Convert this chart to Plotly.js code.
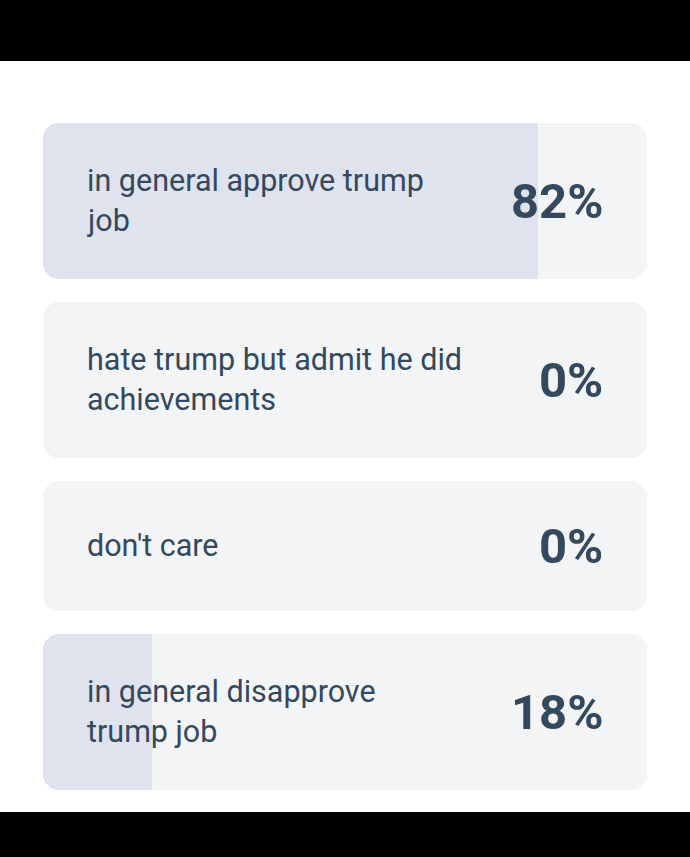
<!DOCTYPE html>
<html>
<head>
<meta charset="utf-8">
<script src="https://cdn.plot.ly/plotly-3.0.1.min.js"></script>
<style>html,body{margin:0;padding:0;background:#000;}#chart{width:690px;height:857px;}</style>
</head>
<body>
<div id="chart"></div>
<script>
// ---- data ----
const labels = ["in general approve trump job", "hate trump but admit he did achievements", "don't care", "in general disapprove trump job"];
const values = [82, 0, 0, 18];
const valueLabels = values.map(v => v + '%');

// ---- style / geometry ----
const W = 690, H = 857;
const bandTop = 61, bandBottom = 812;
const cardLeft = 43, cardRight = 647;
const firstTop = 123, gap = 23, pad = 38, lineH = 40, minH = 130;
const labelX = 85, pctRight = 605;
const labelFont = 30.5, pctFont = 49;
const textColor = '#34495e';
const cardColor = '#f3f4f6';
const fillColor = '#dfe3ee';
const radius = 16;

const cv = document.createElement('canvas').getContext('2d');
function measure(t, font) { cv.font = font; return cv.measureText(t).width; }
function wrap(text, maxW) {
  const words = text.split(' ');
  const lines = []; let cur = '';
  words.forEach(w => {
    const test = cur ? cur + ' ' + w : w;
    if (cur && measure(test, labelFont + 'px Roboto') > maxW) { lines.push(cur); cur = w; }
    else cur = test;
  });
  if (cur) lines.push(cur);
  return lines;
}

const wrapped = labels.map((l, i) => {
  const pw = measure(valueLabels[i], 'bold ' + pctFont + 'px Roboto');
  return wrap(l, pctRight - pw - 64 - labelX);
});
const heights = wrapped.map(ls => Math.max(minH, ls.length * lineH + 2 * pad));
const centers = [];
let cardTop = firstTop;
heights.forEach(h => { centers.push(cardTop + h / 2); cardTop += h + gap; });

const pxPerUnit = (cardRight - cardLeft) / 100;
const xr = [-cardLeft / pxPerUnit, 100 + (W - cardRight) / pxPerUnit];

const common = {type: 'bar', orientation: 'h', y: centers, width: heights, hoverinfo: 'skip', showlegend: false};
const traces = [
  // card backgrounds (full 100%)
  Object.assign({}, common, {base: labels.map(() => 0), x: labels.map(() => 100), marker: {color: cardColor, cornerradius: radius}}),
  // share fill, rounded
  Object.assign({}, common, {base: values.map(() => 0), x: values, marker: {color: fillColor, cornerradius: radius}}),
  // square-off the right end of the share fill
  Object.assign({}, common, {base: values.map(v => v / 2), x: values.map(v => v / 2), marker: {color: fillColor, cornerradius: 0}})
];

const annotations = [];
wrapped.forEach((ls, i) => {
  ls.forEach((t, j) => {
    annotations.push({xref: 'paper', yref: 'y', x: labelX / W, y: centers[i] + (j - (ls.length - 1) / 2) * lineH - 1,
      xanchor: 'left', yanchor: 'middle', text: t, showarrow: false,
      font: {family: 'Roboto', size: labelFont, color: textColor}});
  });
  annotations.push({xref: 'paper', yref: 'y', x: pctRight / W, y: centers[i],
    xanchor: 'right', yanchor: 'middle', text: '<b>' + valueLabels[i] + '</b>', showarrow: false,
    font: {family: 'Roboto', size: pctFont, color: textColor}});
});

const layout = {
  width: W, height: H,
  margin: {l: 0, r: 0, t: 0, b: 0, pad: 0},
  paper_bgcolor: '#000', plot_bgcolor: '#fff',
  barmode: 'overlay', bargap: 0,
  xaxis: {range: xr, visible: false, fixedrange: true, domain: [0, 1]},
  yaxis: {range: [bandBottom, bandTop], visible: false, fixedrange: true, domain: [(H - bandBottom) / H, (H - bandTop) / H]},
  annotations: annotations
};
Plotly.newPlot('chart', traces, layout, {displayModeBar: false, staticPlot: true});
</script>
</body>
</html>
